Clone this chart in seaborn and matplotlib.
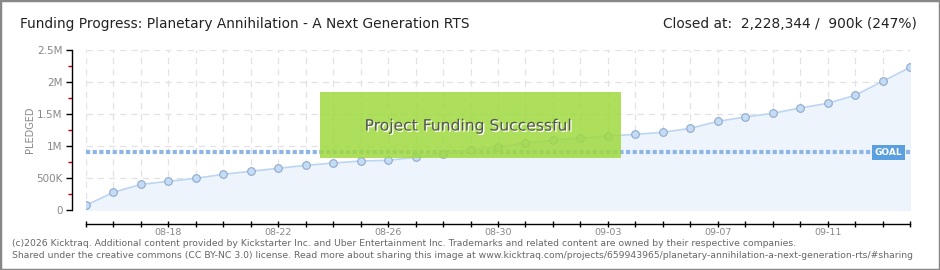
import matplotlib
matplotlib.use("Agg")
import matplotlib.pyplot as plt
import matplotlib.patches as mpatches
import matplotlib.patheffects as pe
import seaborn as sns
import pandas as pd
import numpy as np

# ---- data ----
dates = ["08-15", "08-16", "08-17", "08-18", "08-19", "08-20", "08-21", "08-22",
         "08-23", "08-24", "08-25", "08-26", "08-27", "08-28", "08-29", "08-30",
         "08-31", "09-01", "09-02", "09-03", "09-04", "09-05", "09-06", "09-07",
         "09-08", "09-09", "09-10", "09-11", "09-12", "09-13", "09-14"]
pledged = [73000, 277000, 400000, 448000, 495000, 558000, 605000, 652000,
           698000, 734000, 766000, 776000, 823000, 875000, 937000, 980000,
           1047000, 1089000, 1125000, 1156000, 1182000, 1214000, 1276000, 1385000,
           1453000, 1510000, 1594000, 1667000, 1792000, 2010000, 2228344]
goal = 900000
ytick_values = [0, 500000, 1000000, 1500000, 2000000, 2500000]
ytick_labels = ["0", "500K", "1M", "1.5M", "2M", "2.5M"]
xlabel_dates = ["08-18", "08-22", "08-26", "08-30", "09-03", "09-07", "09-11"]
title = "Funding Progress: Planetary Annihilation - A Next Generation RTS"
status = "Closed at:  2,228,344 /  900k (247%)"
footer1 = ("(c)2026 Kicktraq. Additional content provided by Kickstarter Inc. and Uber "
           "Entertainment Inc. Trademarks and related content are owned by their respective companies.")
footer2 = ("Shared under the creative commons (CC BY-NC 3.0) license. Read more about sharing this "
           "image at www.kicktraq.com/projects/659943965/planetary-annihilation-a-next-generation-rts/#sharing")

df = pd.DataFrame({"day": np.arange(len(dates)), "date": dates, "pledged": pledged})

sns.set_theme(style="white")
plt.rcParams["font.family"] = ["DejaVu Sans"]

W, H = 940, 270
fig = plt.figure(figsize=(W / 100, H / 100), dpi=100)
ax = fig.add_axes([86 / W, (H - 210) / H, (910 - 86) / W, (210 - 50) / H])

# fill + line
ax.fill_between(df["day"], df["pledged"], 0, color="#edf4fc", zorder=1)
sns.lineplot(data=df, x="day", y="pledged", ax=ax, color="#bcd6f2", linewidth=1.2,
             marker="o", markersize=5.5, markerfacecolor="#c4dcf6",
             markeredgecolor="#8fa9c9", markeredgewidth=0.8, zorder=3)

# goal line
ax.axhline(goal, color="#8db6e6", linewidth=3, linestyle=(0, (1.0, 0.6)), zorder=2)

ax.set_xlim(0, len(dates) - 1)
ax.set_ylim(0, 2500000)

# grid
for d in df["day"]:
    ax.axvline(d, color="#e2e2e2", linewidth=0.9, linestyle=(0, (5, 4)), zorder=0.5)
for v in ytick_values:
    ax.axhline(v, color="#e2e2e2", linewidth=0.9, linestyle=(0, (5, 4)), zorder=0.5)

# spines
for s in ["top", "right"]:
    ax.spines[s].set_visible(False)
ax.spines["left"].set_position(("outward", 10))
ax.spines["bottom"].set_position(("outward", 10))
ax.spines["left"].set_color("black")
ax.spines["bottom"].set_color("black")
ax.spines["left"].set_linewidth(1)
ax.spines["bottom"].set_linewidth(1)

ax.set_yticks(ytick_values)
ax.set_yticklabels(ytick_labels, color="#888888", fontsize=7.5)
ax.set_yticks([250000, 750000, 1250000, 1750000, 2250000], minor=True)
ax.tick_params(axis="y", which="major", length=4, width=1, color="black", left=True, pad=3)
ax.tick_params(axis="y", which="minor", length=3, width=1, color="#cc0000", left=True)

ax.set_xticks(df["day"])
ax.set_xticklabels([d if d in xlabel_dates else "" for d in dates], color="#888888", fontsize=6.8)
ax.tick_params(axis="x", which="major", length=4, width=1, color="black", bottom=True,
               direction="inout", pad=1)

ax.set_xlabel("")
ax.set_ylabel("PLEDGED", color="#888888", fontsize=7, labelpad=1)

# success box
box = mpatches.Rectangle((320 / W, (H - 158) / H), (621 - 320) / W, (158 - 92) / H,
                         transform=fig.transFigure, facecolor="#9fd93f", alpha=0.85,
                         edgecolor="none", zorder=10)
fig.patches.append(box)
fig.text(468 / W, (H - 126) / H, "Project Funding Successful", ha="center", va="center",
         fontsize=11.2, color="#555555", zorder=11,
         path_effects=[pe.withSimplePatchShadow(offset=(1, -1), shadow_rgbFace="white", alpha=1)])

# goal label
ax.text(29.2, goal, "GOAL", ha="center", va="center", fontsize=6.5,
        color="white", fontweight="bold", zorder=6,
        bbox=dict(boxstyle="square,pad=0.3", facecolor="#5a9fe0", edgecolor="none"))

# header texts
fig.text(20 / W, (H - 24) / H, title, ha="left", va="center", fontsize=9.9, color="#222222")
fig.text(917 / W, (H - 24) / H, status, ha="right", va="center", fontsize=9.9, color="#222222")

# footer
fig.text(12 / W, (H - 243) / H, footer1, ha="left", va="center", fontsize=6.7, color="#666666")
fig.text(12 / W, (H - 256) / H, footer2, ha="left", va="center", fontsize=6.7, color="#666666")

# frame
frame = mpatches.Rectangle((0, 0), 1, 1, transform=fig.transFigure, fill=False,
                           edgecolor="#888888", linewidth=2.5, zorder=20)
fig.patches.append(frame)

fig.savefig("out.png", dpi=100)
